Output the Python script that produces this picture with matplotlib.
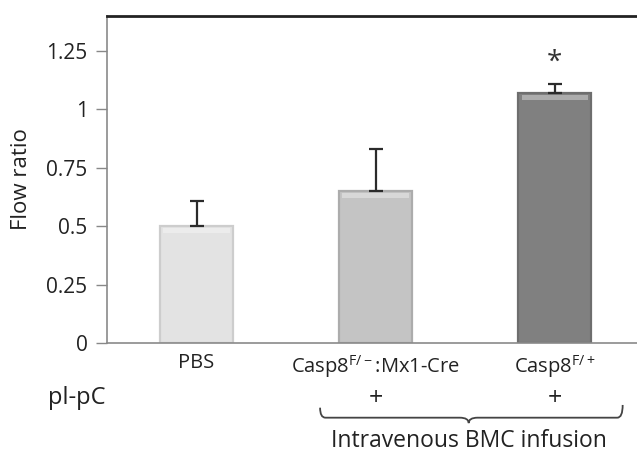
import numpy as np
import matplotlib.pyplot as plt
from matplotlib.path import Path
from matplotlib.patches import PathPatch
import matplotlib.transforms as mtransforms

plt.rcParams['font.family'] = ['Open Sans', 'DejaVu Sans']
plt.rcParams['mathtext.fontset'] = 'custom'
plt.rcParams['mathtext.rm'] = 'Open Sans'

# data
groups = [r'PBS', r'Casp8$^{\mathrm{F/-}}$:Mx1-Cre', r'Casp8$^{\mathrm{F/+}}$']
flow_ratio = [0.50, 0.65, 1.07]
err_up = [0.11, 0.18, 0.04]
plpc = ['', '+', '+']
bar_colors = ['#e3e3e3', '#c4c4c4', '#808080']
edge_colors = ['#cdcdcd', '#acacac', '#6e6e6e']

fig = plt.figure(figsize=(6.37, 4.54), dpi=100)
ax = fig.add_axes([0.168, 0.2445, 0.832, 0.7203])

x = np.arange(len(groups))
ax.bar(x, flow_ratio, width=0.41, color=bar_colors, edgecolor=edge_colors,
       linewidth=1.6, zorder=2)
# soft highlight along the top of each bar
ax.bar(x, [0.02] * 3, bottom=np.array(flow_ratio) - 0.028, width=0.37,
       color='white', alpha=0.35, linewidth=0, zorder=3)
ax.errorbar(x, flow_ratio, yerr=[[0] * 3, err_up], fmt='none',
            ecolor='#2b2b2b', elinewidth=1.6, capsize=5, capthick=1.6, zorder=4)
ax.text(x[2], flow_ratio[2] + err_up[2] + 0.09, '*', ha='center', va='center',
        fontsize=20, color='#333333')

ax.set_xlim(-0.5, 2.46)
ax.set_ylim(0, 1.4)
ax.set_yticks([0, 0.25, 0.5, 0.75, 1, 1.25])
ax.set_yticklabels(['0', '0.25', '0.5', '0.75', '1', '1.25'], fontsize=15,
                   color='#222222')
ax.set_xticks(x)
ax.set_xticklabels(groups, fontsize=14.5, color='#222222')
ax.tick_params(axis='x', length=0, pad=7)
ax.tick_params(axis='y', length=8, width=1, color='#888888', pad=6)
ax.set_ylabel('Flow ratio', fontsize=16, labelpad=10, color='#222222')

for side in ['left', 'bottom']:
    ax.spines[side].set_color('#8a8a8a')
    ax.spines[side].set_linewidth(1.2)
ax.spines['right'].set_visible(False)
ax.spines['top'].set_color('#222222')
ax.spines['top'].set_linewidth(2)

# treatment row
trans = mtransforms.blended_transform_factory(ax.transData, fig.transFigure)
fig.text(0.076, 0.123, 'pl-pC', fontsize=17, ha='left', va='center',
         color='#222222')
for xi, s in zip(x, plpc):
    ax.text(xi, 0.122, s, transform=trans, ha='center', va='center',
            fontsize=18, color='#222222', clip_on=False)

# brace under the infused groups
xl, xm, xr = 0.69, 1.52, 2.38
yb, yc, yt = 0.090, 0.080, 0.068
verts = [(xl, yb + 0.012), (xl, yc), (xl + 0.03, yc), (xm - 0.05, yc),
         (xm, yc), (xm, yt), (xm, yt), (xm, yc), (xm + 0.05, yc),
         (xr - 0.03, yc), (xr, yc), (xr, yb + 0.018)]
codes = [Path.MOVETO, Path.CURVE3, Path.CURVE3, Path.LINETO,
         Path.CURVE3, Path.CURVE3, Path.MOVETO, Path.CURVE3, Path.CURVE3,
         Path.LINETO, Path.CURVE3, Path.CURVE3]
brace = PathPatch(Path(verts, codes), transform=trans, fill=False,
                  edgecolor='#444444', linewidth=1.3, clip_on=False)
ax.add_patch(brace)
ax.text(xm, 0.028, 'Intravenous BMC infusion', transform=trans, ha='center',
        va='center', fontsize=16.5, color='#222222', clip_on=False)

fig.savefig('out.png', dpi=100)
